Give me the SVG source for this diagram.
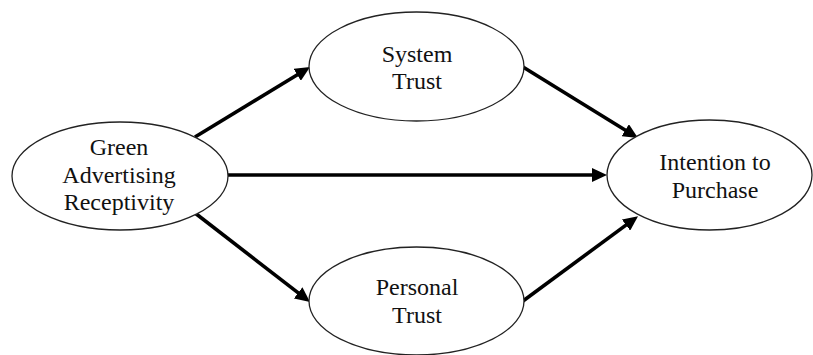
<svg xmlns="http://www.w3.org/2000/svg" width="813" height="355" viewBox="0 0 813 355">
<style>
.node ellipse{fill:#fff;stroke:#222;stroke-width:1.3}
.node text{font-family:"Liberation Serif","Times New Roman",serif;font-size:24px;fill:#111;text-anchor:middle}
.conn line{stroke:#000;stroke-width:3.6;fill:none;marker-end:url(#ah)}
</style>
<defs>
<marker id="ah" markerUnits="userSpaceOnUse" markerWidth="16" markerHeight="14" viewBox="0 0 16 14" refX="5" refY="7" orient="auto">
<path d="M0,0 L15,7 L0,14 z" fill="#000"/>
</marker>
</defs>
<rect width="813" height="355" fill="#fff"/>
<g id="connectors" class="conn">
<line x1="195" y1="137" x2="301.5" y2="72.2"/>
<line x1="228" y1="175" x2="597" y2="175"/>
<line x1="195" y1="213" x2="302.1" y2="295.9"/>
<line x1="523" y1="67" x2="629.5" y2="132.8"/>
<line x1="523" y1="301" x2="630" y2="222.1"/>
</g>
<g id="green" class="node">
<ellipse cx="120" cy="176" rx="108" ry="54"/>
<text x="119" y="155">Green</text>
<text x="119" y="183">Advertising</text>
<text x="119" y="210">Receptivity</text>
</g>
<g id="system" class="node">
<ellipse cx="416.5" cy="66.5" rx="107.5" ry="54.5"/>
<text x="417" y="62">System</text>
<text x="417" y="89">Trust</text>
</g>
<g id="personal" class="node">
<ellipse cx="416.5" cy="301" rx="107.5" ry="54"/>
<text x="417" y="295">Personal</text>
<text x="417" y="323">Trust</text>
</g>
<g id="intention" class="node">
<ellipse cx="709.5" cy="175" rx="102.5" ry="55"/>
<text x="715" y="170">Intention to</text>
<text x="715" y="198">Purchase</text>
</g>
</svg>
